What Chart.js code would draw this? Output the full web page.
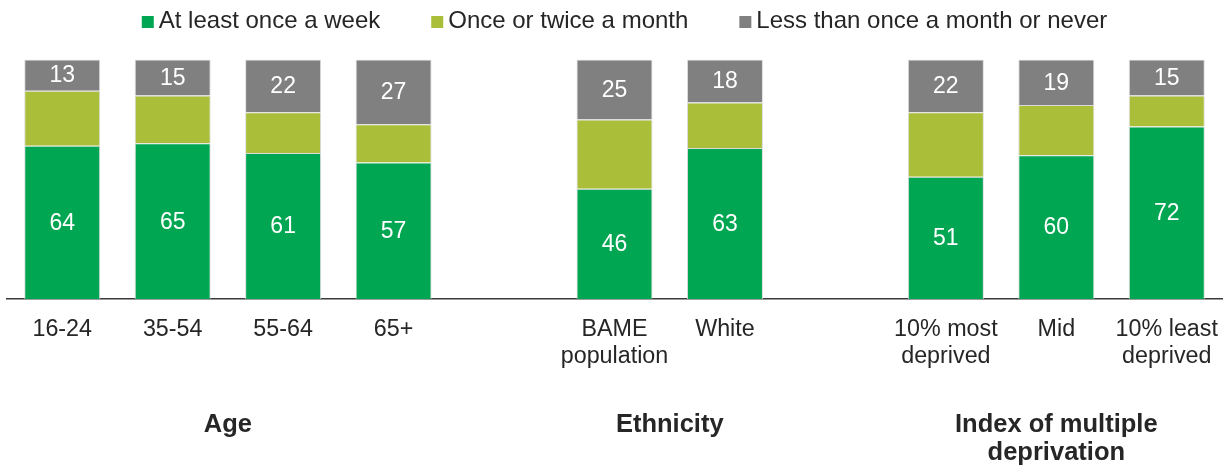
<!DOCTYPE html>
<html>
<head>
<meta charset="utf-8">
<script src="https://cdn.jsdelivr.net/npm/chart.js@4/dist/chart.umd.min.js"></script>
<style>
  html, body { margin: 0; padding: 0; background: #ffffff; }
  #wrap { width: 1223px; height: 467px; }
</style>
</head>
<body>
<div id="wrap"><canvas id="chart" width="1223" height="467"></canvas></div>
<script>
// Categories (empty strings leave a gap between the groups)
const categories = [
  '16-24', '35-54', '55-64', '65+', '',
  ['BAME', 'population'], 'White', '',
  ['10% most', 'deprived'], 'Mid', ['10% least', 'deprived']
];

// Share of respondents (%) by frequency
const weekly  = [64, 65, 61, 57, null, 46, 63, null, 51, 60, 72];
const monthly = [23, 20, 17, 16, null, 29, 19, null, 27, 21, 13];
const rarely  = [13, 15, 22, 27, null, 25, 18, null, 22, 19, 15];

const seriesNames = ['At least once a week', 'Once or twice a month', 'Less than once a month or never'];

// Group headings and the category index range each one spans
const groupLabels = [['Age'], ['Ethnicity'], ['Index of multiple', 'deprivation']];
const groupSpans  = [[0, 3], [5, 6], [8, 10]];

const FONT = '"Liberation Sans", Arial, Helvetica, sans-serif';
const TEXT = '#262626';

// Legend drawn on the canvas: small square, tight gap, then the label
const legendPlugin = {
  id: 'topLegend',
  afterDraw(chart, args, opts) {
    const ctx = chart.ctx;
    const sets = chart.data.datasets;
    ctx.save();
    ctx.font = `${opts.size}px ${FONT}`;
    const widths = sets.map(d => ctx.measureText(d.label).width);
    let total = 0;
    widths.forEach((w, i) => { total += opts.box + opts.gap + w + (i ? opts.spacing : 0); });
    let x = chart.width / 2 + opts.shift - total / 2;
    ctx.textBaseline = 'middle';
    ctx.textAlign = 'left';
    sets.forEach((d, i) => {
      ctx.fillStyle = d.backgroundColor;
      ctx.fillRect(x, opts.y - opts.box / 2 + 1, opts.box, opts.box);
      ctx.fillStyle = TEXT;
      ctx.fillText(d.label, x + opts.box + opts.gap, opts.y);
      x += opts.box + opts.gap + widths[i] + opts.spacing;
    });
    ctx.restore();
  }
};

// White value labels centred in the segments of flagged datasets
const valueLabelPlugin = {
  id: 'valueLabels',
  afterDatasetsDraw(chart, args, opts) {
    const ctx = chart.ctx;
    ctx.save();
    ctx.font = `${opts.size}px ${FONT}`;
    ctx.fillStyle = '#ffffff';
    ctx.textAlign = 'center';
    ctx.textBaseline = 'middle';
    chart.data.datasets.forEach((ds, di) => {
      if (!ds.showValues) return;
      chart.getDatasetMeta(di).data.forEach((el, i) => {
        const v = ds.data[i];
        if (v == null) return;
        ctx.fillText(String(v), el.x, (el.y + el.base) / 2 + 1);
      });
    });
    ctx.restore();
  }
};

// Bold group headings under the category labels
const groupPlugin = {
  id: 'groupHeadings',
  afterDraw(chart, args, opts) {
    const ctx = chart.ctx;
    const xs = chart.scales.x;
    ctx.save();
    ctx.font = `bold ${opts.size}px ${FONT}`;
    ctx.fillStyle = TEXT;
    ctx.textAlign = 'center';
    ctx.textBaseline = 'alphabetic';
    groupLabels.forEach((lines, g) => {
      const [a, b] = groupSpans[g];
      const cx = (xs.getPixelForValue(a) + xs.getPixelForValue(b)) / 2;
      lines.forEach((line, li) => ctx.fillText(line, cx, opts.y + li * opts.lineHeight));
    });
    ctx.restore();
  }
};

const barStyle = {
  borderWidth: 1,
  borderColor: 'rgba(215,215,215,0.9)',
  barPercentage: 0.688,
  categoryPercentage: 1.0
};

new Chart(document.getElementById('chart'), {
  type: 'bar',
  data: {
    labels: categories,
    datasets: [
      Object.assign({ label: seriesNames[0], data: weekly,  backgroundColor: '#00A651', showValues: true }, barStyle),
      Object.assign({ label: seriesNames[1], data: monthly, backgroundColor: '#AABE3A', showValues: false }, barStyle),
      Object.assign({ label: seriesNames[2], data: rarely,  backgroundColor: '#808080', showValues: true }, barStyle)
    ]
  },
  plugins: [legendPlugin, valueLabelPlugin, groupPlugin],
  options: {
    responsive: false,
    animation: false,
    devicePixelRatio: 1,
    layout: { padding: { top: 59.5, left: 7, right: 1, bottom: 0 } },
    plugins: {
      legend: { display: false },
      tooltip: { enabled: false },
      topLegend: { size: 24, box: 12, gap: 5, spacing: 51, y: 21, shift: 13 },
      valueLabels: { size: 23 },
      groupHeadings: { size: 25.5, y: 432, lineHeight: 28 }
    },
    scales: {
      x: {
        stacked: true,
        grid: { display: false, drawTicks: false },
        border: { display: true, color: '#3a3a3a', width: 1.4 },
        ticks: {
          autoSkip: false,
          maxRotation: 0,
          minRotation: 0,
          padding: 17,
          color: TEXT,
          font: { family: FONT, size: 23.3, lineHeight: '27px' }
        },
        afterFit(scale) {
          // keep the plot area full width; the outer labels fit inside it
          scale.height = 168;
          scale.paddingLeft = 0;
          scale.paddingRight = 0;
        }
      },
      y: {
        stacked: true,
        display: false,
        min: 0,
        max: 100
      }
    }
  }
});
</script>
</body>
</html>
